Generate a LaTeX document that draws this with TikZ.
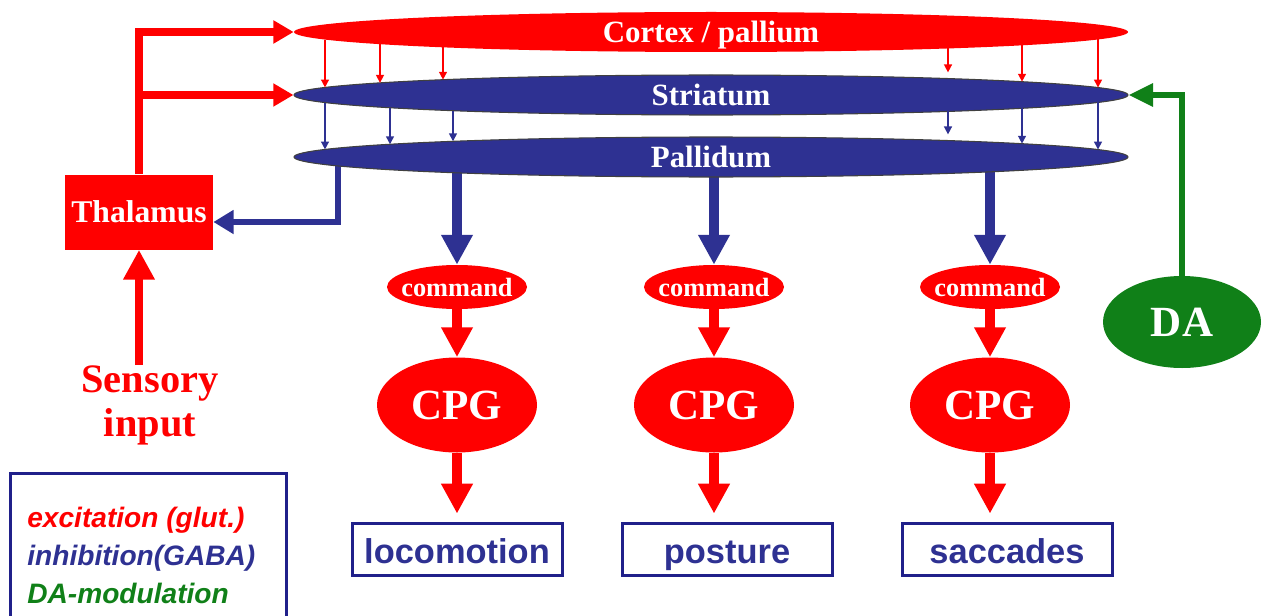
\documentclass[tikz,border=0pt]{standalone}
\usepackage{fontspec}
\setmainfont{Liberation Serif}
\setsansfont{Liberation Sans}
\usetikzlibrary{shapes.geometric, arrows.meta, backgrounds}
\newlength{\pxu}
\setlength{\pxu}{0.02cm}
\definecolor{exred}{RGB}{255,0,0}
\definecolor{inblue}{RGB}{46,49,146}
\definecolor{boxblue}{RGB}{32,32,138}
\definecolor{dagreen}{RGB}{16,128,24}
\tikzstyle{nucleus}=[ellipse, inner sep=0pt, minimum width=834\pxu, minimum height=40\pxu, text height=12pt, text depth=0.5pt, text=white, font=\bfseries\fontsize{17.6}{20}\selectfont]
\tikzstyle{cmd}=[ellipse, inner sep=0pt, fill=exred, minimum width=140\pxu, minimum height=44\pxu, text=white, font=\bfseries\fontsize{15}{18}\selectfont]
\tikzstyle{cpg}=[ellipse, inner sep=0pt, fill=exred, minimum width=160\pxu, minimum height=95\pxu, text=white, font=\bfseries\fontsize{24.5}{28}\selectfont]
\tikzstyle{outbox}=[draw=boxblue, line width=3\pxu, minimum width=210\pxu, minimum height=52\pxu, text height=16pt, text depth=0pt, text=inblue, font=\sffamily\bfseries\fontsize{19.6}{23}\selectfont]
\tikzstyle{legend}=[anchor=west, inner sep=0pt, font=\sffamily\bfseries\itshape\fontsize{16}{19}\selectfont]
\tikzstyle{exc}=[exred, line width=8\pxu, -{Triangle[width=12.5pt,length=11.5pt]}]
\tikzstyle{excbig}=[exred, line width=10\pxu, -{Triangle[width=17pt,length=17pt]}]
\tikzstyle{inh}=[inblue, line width=6\pxu, -{Triangle[width=13pt,length=11.5pt]}]
\tikzstyle{inhbig}=[inblue, line width=10\pxu, -{Triangle[width=17pt,length=17pt]}]
\tikzstyle{mod}=[dagreen, line width=6\pxu, -{Triangle[width=12.5pt,length=14pt]}]
\tikzstyle{thinexc}=[exred, line width=1.5\pxu, -{Triangle[width=4.5pt,length=4.5pt]}]
\tikzstyle{thininh}=[inblue, line width=1.5\pxu, -{Triangle[width=4.5pt,length=4.5pt]}]

\begin{document}
\begin{tikzpicture}[x=0.02cm, y=-0.02cm]
\useasboundingbox (0,0) rectangle (1267,615);
\clip (0,0) rectangle (1267,615);

% basal ganglia loop
\node[nucleus, fill=exred] (cortex) at (711,32) {Cortex / pallium};
\node[nucleus, fill=inblue, draw=black!75, line width=0.6pt] (stri) at (711,95) {Striatum};
\node[nucleus, fill=inblue, draw=black!75, line width=0.6pt] (pall) at (711,157) {Pallidum};

\node[fill=exred, minimum width=148\pxu, minimum height=75\pxu, inner sep=0pt, text=white, font=\bfseries\fontsize{18}{20}\selectfont] (thal) at (139,212) {Thalamus};
\node[text=exred, align=center, inner sep=0pt, font=\bfseries\fontsize{23}{25}\selectfont] (sens) at (150,405) {Sensory\\input};

\node[ellipse, fill=dagreen, minimum width=158\pxu, minimum height=92\pxu, inner sep=0pt, text=white, font=\bfseries\fontsize{24.5}{28}\selectfont] (da) at (1182,322) {DA};

% motor programs
\node[cmd] (cmd1) at (457,287) {\makebox[0pt]{command}};
\node[cmd] (cmd2) at (714,287) {\makebox[0pt]{command}};
\node[cmd] (cmd3) at (990,287) {\makebox[0pt]{command}};
\node[cpg] (cpg1) at (457,405) {CPG};
\node[cpg] (cpg2) at (714,405) {CPG};
\node[cpg] (cpg3) at (990,405) {CPG};
\node[outbox] (loco) at (457,549) {locomotion};
\node[outbox] (post) at (727,549) {posture};
\node[outbox] (sacc) at (1007,549) {saccades};

% legend
\draw[boxblue, line width=3\pxu] (10,473) rectangle (286,640);
\node[legend, text=exred] (lexc) at (27,520) {excitation (glut.)};
\node[legend, text=inblue] (linh) at (27,558) {inhibition(GABA)};
\node[legend, text=dagreen] (lda) at (27,593) {DA-modulation};

% thin projections between the layers
\foreach \x/\s in {325/0,380/0,443/0,948/3.5,1022/0,1098/0} {
  \pgfmathsetmacro\dy{20*sqrt(1-((\x-711)/417)^2)}
  \coordinate (cb\x) at (\x,32+\dy);
  \coordinate (st\x) at (\x,95-\dy);
  \draw[thinexc, shorten >=\s pt] (cb\x) -- (st\x);
}
\foreach \x/\s in {325/0,390/0,453/0,948/3.5,1022/0,1098/0} {
  \pgfmathsetmacro\dy{20*sqrt(1-((\x-711)/417)^2)}
  \coordinate (sb\x) at (\x,95+\dy);
  \coordinate (pt\x) at (\x,157-\dy);
  \draw[thininh, shorten >=\s pt] (sb\x) -- (pt\x);
}

\draw[exc] (thal.north) -- (thal.north |- cortex.west) -- (cortex.west);
\draw[exc] (thal.north |- stri.west) -- (stri.west);
\draw[excbig, line width=8\pxu] (sens.north -| thal.south) -- (thal.south);
\draw[mod] (da.north) -- (da.north |- stri.east) -- (stri.east);

\coordinate (pbend) at (338,222);
\begin{scope}[on background layer]
\draw[inh] (pall.center -| pbend) -- (pbend) -- (pbend -| thal.east);
\foreach \c in {1,2,3}
  \draw[inhbig] (pall.center -| cmd\c.north) -- (cmd\c.north);
\end{scope}

\foreach \c/\b in {1/loco,2/post,3/sacc} {
  \draw[excbig] (cmd\c.south) -- (cpg\c.north);
  \draw[excbig, shorten >=4.5pt] (cpg\c.south) -- (cpg\c.south |- \b.north);
}

\end{tikzpicture}
\end{document}
